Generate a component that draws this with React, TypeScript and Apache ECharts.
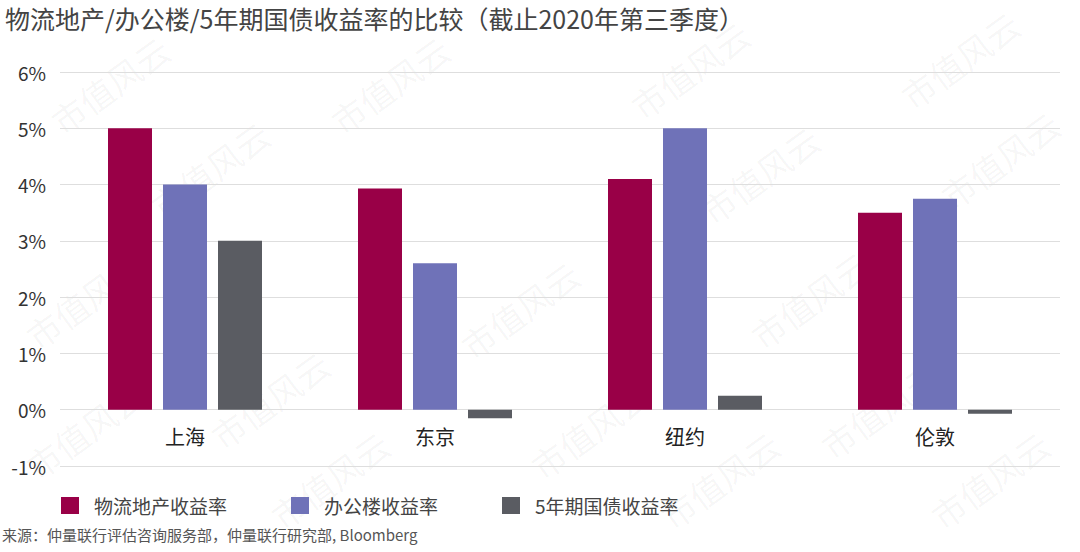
import React, { useEffect, useRef } from "react";
import * as echarts from "echarts";

const categories = ["上海", "东京", "纽约", "伦敦"];
const seriesNames = ["物流地产收益率", "办公楼收益率", "5年期国债收益率"];
const logistics = [5.0, 3.93, 4.1, 3.5];
const office = [4.0, 2.6, 5.0, 3.75];
const bond = [3.0, -0.15, 0.25, -0.07];
const colors = ["#990047", "#6f72b8", "#5a5c62"];

const watermarkPos = [
  [110, 85], [390, 85], [690, 70], [960, 60],
  [210, 170], [760, 175], [1000, 160],
  [85, 300], [520, 310], [810, 300],
  [270, 400], [590, 430], [880, 410], [85, 430],
  [330, 480], [720, 480], [990, 480],
];

export default function App() {
  const ref = useRef<HTMLDivElement>(null);
  useEffect(() => {
    if (!ref.current) return;
    const chart = echarts.init(ref.current, undefined, { renderer: "svg" });
    const font = "'Noto Sans CJK SC', 'Noto Sans', sans-serif";
    chart.setOption({
      animation: false,
      textStyle: { fontFamily: font },
      title: {
        text: "物流地产/办公楼/5年期国债收益率的比较（截止2020年第三季度）",
        left: 0,
        top: 0,
        textStyle: { fontSize: 25, fontWeight: "normal", color: "#444", fontFamily: font },
      },
      grid: { left: 60, right: 20, top: 72, bottom: 86, containLabel: false },
      legend: {
        data: seriesNames,
        left: 56,
        top: 491,
        icon: "rect",
        itemWidth: 18,
        itemHeight: 17,
        itemGap: 64,
        textStyle: { fontSize: 19, color: "#444", fontFamily: font, padding: [0, 0, 0, 10] },
      },
      xAxis: {
        type: "category",
        data: categories,
        offset: -56.3,
        axisTick: { show: false },
        axisLine: { show: false },
        axisLabel: { fontSize: 20, color: "#222", margin: 17 },
      },
      yAxis: {
        type: "value",
        min: -1,
        max: 6,
        interval: 1,
        axisLabel: { formatter: "{value}%", fontSize: 19, color: "#333", margin: 14 },
        splitLine: { lineStyle: { color: "#dedede", width: 1 } },
        axisLine: { show: false },
        axisTick: { show: false },
      },
      series: [logistics, office, bond].map((d, i) => ({
        name: seriesNames[i],
        type: "bar",
        data: d,
        barWidth: 44,
        barGap: "25%",
        itemStyle: { color: colors[i] },
      })),
      graphic: [
        ...watermarkPos.map(([x, y]) => ({
          type: "text",
          x,
          y,
          rotation: Math.PI / 5,
          silent: true,
          style: {
            text: "市值风云",
            fontSize: 34,
            fill: "rgba(0,0,0,0.045)",
            fontFamily: font,
            textAlign: "center",
            textVerticalAlign: "middle",
          },
        })),
        {
          type: "text",
          left: 2,
          top: 527,
          style: {
            text: "来源：仲量联行评估咨询服务部，仲量联行研究部, Bloomberg",
            fontSize: 15,
            fill: "#555",
            fontFamily: font,
          },
        },
      ],
    });
    return () => chart.dispose();
  }, []);
  return <div ref={ref} style={{ width: 1080, height: 552, position: "absolute", left: 0, top: 0 }} />;
}
